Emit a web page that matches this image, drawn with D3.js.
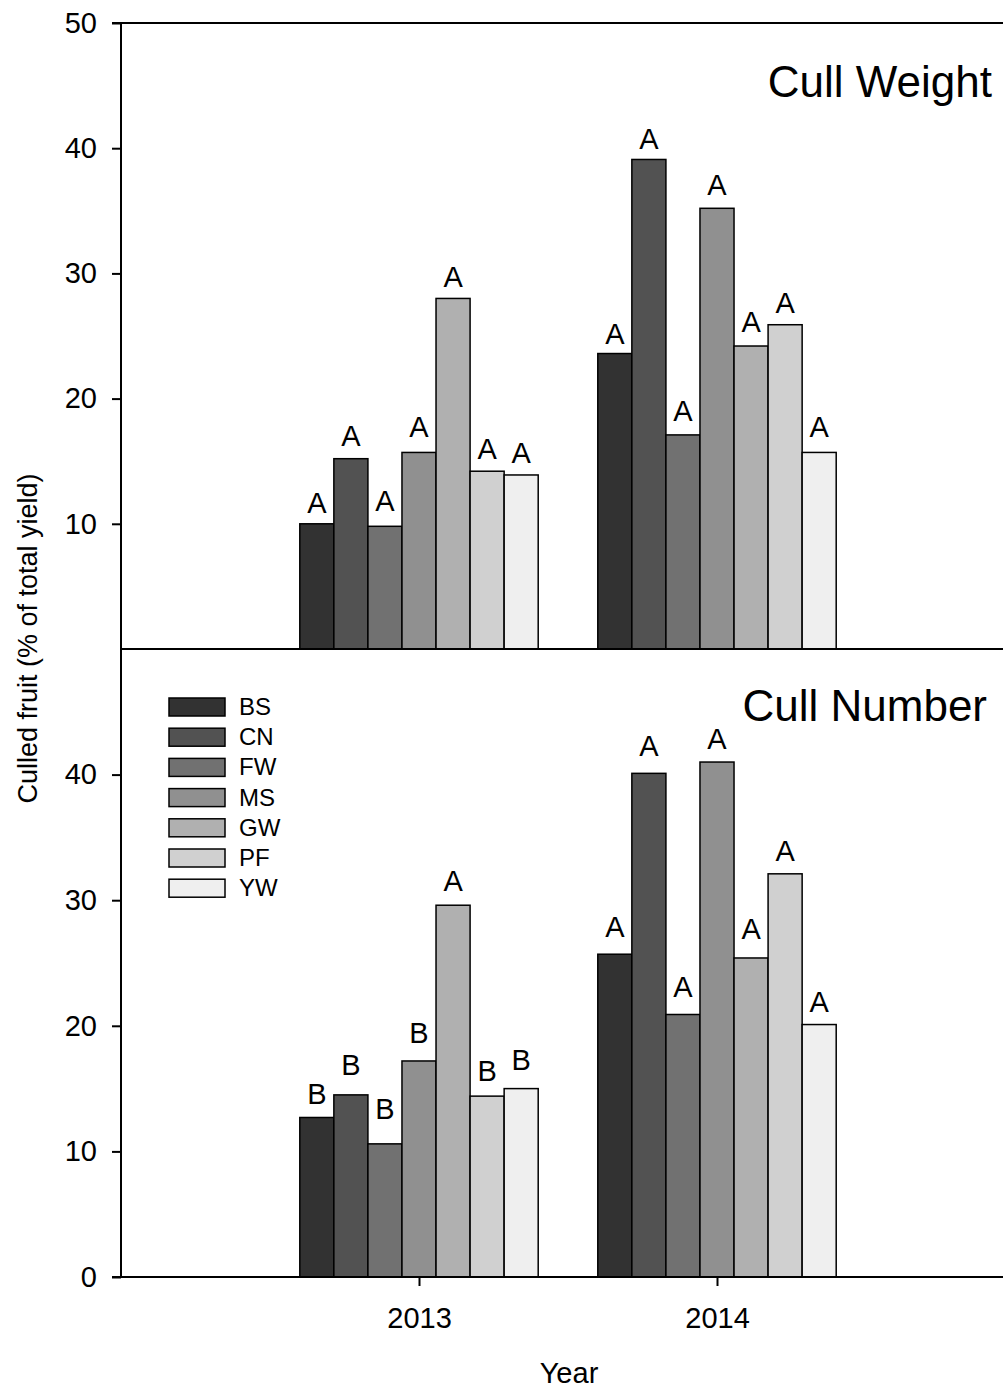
<!DOCTYPE html>
<html>
<head>
<meta charset="utf-8">
<script src="https://cdn.jsdelivr.net/npm/d3@7"></script>
<style>
  html, body { margin: 0; padding: 0; background: #fff; }
  svg { display: block; font-family: "Liberation Sans", Arial, sans-serif; }
</style>
</head>
<body>
<svg id="chart" width="1003" height="1389"></svg>
<script>
// Treatments and their fill shades
const treatments = ["BS", "CN", "FW", "MS", "GW", "PF", "YW"];
const shades = ["#323232", "#525252", "#717171", "#909090", "#b0b0b0", "#d0d0d0", "#efefef"];
const years = [2013, 2014];

// Cull weight (% of total yield), one array per year, in treatment order
const weight2013 = [10.0, 15.2, 9.8, 15.7, 28.0, 14.2, 13.9];
const weight2014 = [23.6, 39.1, 17.1, 35.2, 24.2, 25.9, 15.7];
// Cull number (% of total yield)
const number2013 = [12.7, 14.5, 10.6, 17.2, 29.6, 14.4, 15.0];
const number2014 = [25.7, 40.1, 20.9, 41.0, 25.4, 32.1, 20.1];

// Mean separation letters and the height (in % units) where each letter sits
const weightLetters2013 = ["A", "A", "A", "A", "A", "A", "A"];
const weightLetters2014 = ["A", "A", "A", "A", "A", "A", "A"];
const numberLetters2013 = ["B", "B", "B", "B", "A", "B", "B"];
const numberLetters2014 = ["A", "A", "A", "A", "A", "A", "A"];
const weightLetterAt2013 = [10.9, 16.2, 11.05, 16.9, 28.9, 15.15, 14.85];
const weightLetterAt2014 = [24.4, 39.9, 18.25, 36.25, 25.3, 26.85, 16.9];
const numberLetterAt2013 = [13.8, 16.05, 12.6, 18.6, 30.7, 15.6, 16.45];
const numberLetterAt2014 = [27.05, 41.5, 22.3, 42.05, 26.9, 33.15, 21.1];

const yTicksTop = [10, 20, 30, 40, 50];
const yTicksBottom = [0, 10, 20, 30, 40];

const panels = [
  { title: "Cull Weight", values: [weight2013, weight2014], letters: [weightLetters2013, weightLetters2014],
    letterAt: [weightLetterAt2013, weightLetterAt2014], ticks: yTicksTop, top: 23, bottom: 649, titleX: 992, titleY: 97 },
  { title: "Cull Number", values: [number2013, number2014], letters: [numberLetters2013, numberLetters2014],
    letterAt: [numberLetterAt2013, numberLetterAt2014], ticks: yTicksBottom, top: 649, bottom: 1277, titleX: 987, titleY: 721 }
];

const svg = d3.select("#chart");
const left = 121;
const x = d3.scaleLinear().domain([2012, 2015]).range([left, 1015]);
const groupWidth = x(2012.8) - x(2012);
const barWidth = groupWidth / treatments.length;

panels.forEach((p, pi) => {
  const y = d3.scaleLinear().domain([0, 50]).range([p.bottom, p.top]);
  const g = svg.append("g");

  // Bars
  years.forEach((yr, yi) => {
    const start = x(yr) - groupWidth / 2;
    g.selectAll(null)
      .data(p.values[yi])
      .enter().append("rect")
      .attr("x", (d, i) => start + i * barWidth)
      .attr("y", d => y(d))
      .attr("width", barWidth)
      .attr("height", d => y(0) - y(d))
      .attr("fill", (d, i) => shades[i])
      .attr("stroke", "#000")
      .attr("stroke-width", 1.5);

    g.selectAll(null)
      .data(p.letters[yi])
      .enter().append("text")
      .attr("x", (d, i) => start + (i + 0.5) * barWidth)
      .attr("y", (d, i) => y(p.letterAt[yi][i]))
      .attr("text-anchor", "middle")
      .attr("font-size", 29)
      .attr("fill", "#000")
      .text(d => d);
  });

  // Left axis
  const yAxis = d3.axisLeft(y).tickValues(p.ticks).tickSize(9).tickPadding(15).tickFormat(d3.format("d"));
  const ay = g.append("g").attr("transform", `translate(${left},0)`).call(yAxis);
  ay.select(".domain").remove();
  ay.selectAll(".tick line").attr("stroke", "#000").attr("stroke-width", 2);
  ay.selectAll(".tick text").attr("font-size", 29).attr("font-family", "Liberation Sans, Arial, sans-serif").attr("fill", "#000");
  g.append("line").attr("x1", left).attr("x2", left).attr("y1", p.top).attr("y2", p.bottom)
    .attr("stroke", "#000").attr("stroke-width", 2);

  // Frame lines
  if (pi === 0) {
    g.append("line").attr("x1", left - 9).attr("x2", 1003).attr("y1", p.top).attr("y2", p.top)
      .attr("stroke", "#000").attr("stroke-width", 2);
    g.append("line").attr("x1", left).attr("x2", 1003).attr("y1", p.bottom).attr("y2", p.bottom)
      .attr("stroke", "#000").attr("stroke-width", 2);
  } else {
    const xAxis = d3.axisBottom(x).tickValues(years).tickSize(9).tickPadding(21).tickFormat(d3.format("d"));
    const ax = g.append("g").attr("transform", `translate(0,${p.bottom})`).call(xAxis);
    ax.select(".domain").remove();
    ax.selectAll(".tick line").attr("stroke", "#000").attr("stroke-width", 2);
    ax.selectAll(".tick text").attr("font-size", 29).attr("font-family", "Liberation Sans, Arial, sans-serif").attr("fill", "#000");
    g.append("line").attr("x1", left - 9).attr("x2", 1003).attr("y1", p.bottom).attr("y2", p.bottom)
      .attr("stroke", "#000").attr("stroke-width", 2);
  }

  // Panel title
  g.append("text").attr("x", p.titleX).attr("y", p.titleY)
    .attr("text-anchor", "end").attr("font-size", 44).attr("fill", "#000").text(p.title);
});

// Legend
const legend = svg.append("g").attr("transform", "translate(169,698)");
const rowStep = 30.2;
treatments.forEach((t, i) => {
  legend.append("rect").attr("x", 0).attr("y", i * rowStep).attr("width", 56).attr("height", 18)
    .attr("fill", shades[i]).attr("stroke", "#000").attr("stroke-width", 1.5);
  legend.append("text").attr("x", 70).attr("y", i * rowStep + 17).attr("font-size", 24).attr("fill", "#000").text(t);
});

// Axis titles
svg.append("text").attr("x", 569).attr("y", 1383).attr("text-anchor", "middle")
  .attr("font-size", 29).attr("fill", "#000").text("Year");
svg.append("text").attr("transform", "translate(37,638.5) rotate(-90)").attr("text-anchor", "middle")
  .attr("font-size", 27).attr("fill", "#000").text("Culled fruit (% of total yield)");
</script>
</body>
</html>
